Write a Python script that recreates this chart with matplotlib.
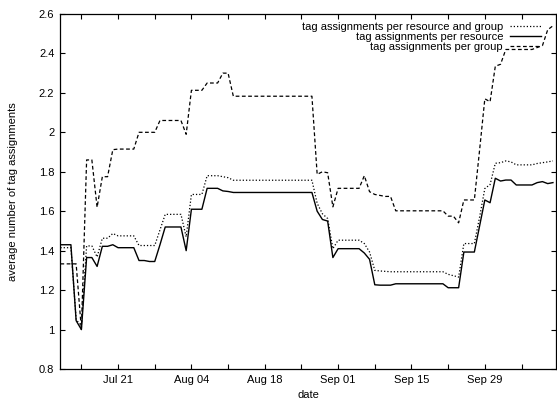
import numpy as np
import pandas as pd
import matplotlib
matplotlib.use("Agg")
import matplotlib.pyplot as plt
import matplotlib.dates as mdates

plt.rcParams['font.family'] = ['Liberation Sans', 'DejaVu Sans']

# one value per day, starting Jul 10
dates = pd.date_range("2008-07-10", periods=95, freq="D")

per_res_group = [
    1.415, 1.415, 1.415, 1.05, 1.02, 1.424, 1.424, 1.368, 1.463, 1.463,
    1.487, 1.475, 1.475, 1.475, 1.475, 1.426, 1.426, 1.426, 1.426, 1.505,
    1.584, 1.584, 1.584, 1.584, 1.47, 1.685, 1.685, 1.685, 1.78, 1.78,
    1.78, 1.775, 1.77, 1.757, 1.757, 1.757, 1.757, 1.757, 1.757, 1.757,
    1.757, 1.757, 1.757, 1.757, 1.757, 1.757, 1.757, 1.757, 1.757, 1.64,
    1.587, 1.563, 1.41, 1.453, 1.453, 1.453, 1.453, 1.453, 1.436, 1.393,
    1.30, 1.297, 1.295, 1.293, 1.293, 1.293, 1.293, 1.293, 1.293, 1.293,
    1.293, 1.293, 1.293, 1.293, 1.28, 1.273, 1.266, 1.436, 1.436, 1.436,
    1.57, 1.715, 1.735, 1.843, 1.846, 1.855, 1.85, 1.835, 1.835, 1.835,
    1.835, 1.842, 1.846, 1.85, 1.855,
]

per_resource = [
    1.43, 1.43, 1.43, 1.045, 1.0, 1.365, 1.365, 1.32, 1.422, 1.422,
    1.43, 1.415, 1.415, 1.415, 1.415, 1.35, 1.35, 1.345, 1.345, 1.43,
    1.52, 1.52, 1.52, 1.52, 1.40, 1.61, 1.61, 1.61, 1.716, 1.716,
    1.716, 1.703, 1.70, 1.695, 1.695, 1.695, 1.695, 1.695, 1.695, 1.695,
    1.695, 1.695, 1.695, 1.695, 1.695, 1.695, 1.695, 1.695, 1.695, 1.60,
    1.558, 1.55, 1.365, 1.41, 1.41, 1.41, 1.41, 1.41, 1.388, 1.356,
    1.227, 1.225, 1.225, 1.225, 1.232, 1.232, 1.232, 1.232, 1.232, 1.232,
    1.232, 1.232, 1.232, 1.232, 1.212, 1.212, 1.212, 1.393, 1.393, 1.393,
    1.525, 1.657, 1.643, 1.767, 1.753, 1.758, 1.758, 1.733, 1.733, 1.733,
    1.733, 1.745, 1.75, 1.74, 1.745,
]

per_group = [
    1.333, 1.333, 1.333, 1.333, 1.0, 1.86, 1.86, 1.62, 1.775, 1.775,
    1.912, 1.915, 1.915, 1.915, 1.915, 2.0, 2.0, 2.0, 2.0, 2.06,
    2.06, 2.06, 2.06, 2.06, 1.99, 2.213, 2.213, 2.213, 2.25, 2.25,
    2.25, 2.30, 2.30, 2.183, 2.183, 2.183, 2.183, 2.183, 2.183, 2.183,
    2.183, 2.183, 2.183, 2.183, 2.183, 2.183, 2.183, 2.183, 2.183, 1.787,
    1.80, 1.795, 1.622, 1.716, 1.716, 1.716, 1.716, 1.716, 1.78, 1.699,
    1.685, 1.68, 1.675, 1.675, 1.602, 1.602, 1.602, 1.602, 1.602, 1.602,
    1.602, 1.602, 1.602, 1.602, 1.575, 1.575, 1.541, 1.657, 1.657, 1.657,
    1.91, 2.17, 2.155, 2.335, 2.345, 2.42, 2.42, 2.42, 2.42, 2.42,
    2.42, 2.43, 2.44, 2.52, 2.54,
]

tick_dates = pd.date_range("2008-07-14", "2008-10-12", freq="7D")
tick_labels = [d.strftime("%b %d") if (d - pd.Timestamp("2008-07-21")).days % 14 == 0 else ""
               for d in tick_dates]
y_ticks = [0.8, 1.0, 1.2, 1.4, 1.6, 1.8, 2.0, 2.2, 2.4, 2.6]
y_labels = ["0.8", "1", "1.2", "1.4", "1.6", "1.8", "2", "2.2", "2.4", "2.6"]

fig = plt.figure(figsize=(5.57, 4.03), dpi=100)
ax = fig.add_axes([0.1077, 0.0844, 0.8905, 0.8809])

ax.plot(dates, per_res_group, color='black', lw=0.9, linestyle=(0, (1, 1.6)),
        label='tag assignments per resource and group')
ax.plot(dates, per_resource, color='black', lw=1.0, linestyle='-',
        label='tag assignments per resource')
ax.plot(dates, per_group, color='black', lw=0.9, linestyle=(0, (3, 2)),
        label='tag assignments per group')

ax.set_xlim(pd.Timestamp("2008-07-09 22:00"), pd.Timestamp("2008-10-12 14:00"))
ax.set_ylim(0.8, 2.6)
ax.set_xticks(tick_dates)
ax.set_xticklabels(tick_labels)
ax.set_yticks(y_ticks)
ax.set_yticklabels(y_labels)
ax.tick_params(direction='in', length=3.5, width=0.8, labelsize=8,
               top=True, right=True, pad=4)
for s in ax.spines.values():
    s.set_linewidth(0.9)

ax.set_xlabel('date', fontsize=8, labelpad=4)
ax.set_ylabel('average number of tag assignments', fontsize=8, labelpad=15)

ax.legend(loc='upper right', frameon=False, fontsize=8, markerfirst=False,
          handlelength=2.8, handletextpad=0.6, labelspacing=0.0,
          borderaxespad=0.3, bbox_to_anchor=(0.985, 1.0))

fig.savefig('out.png', dpi=100)
